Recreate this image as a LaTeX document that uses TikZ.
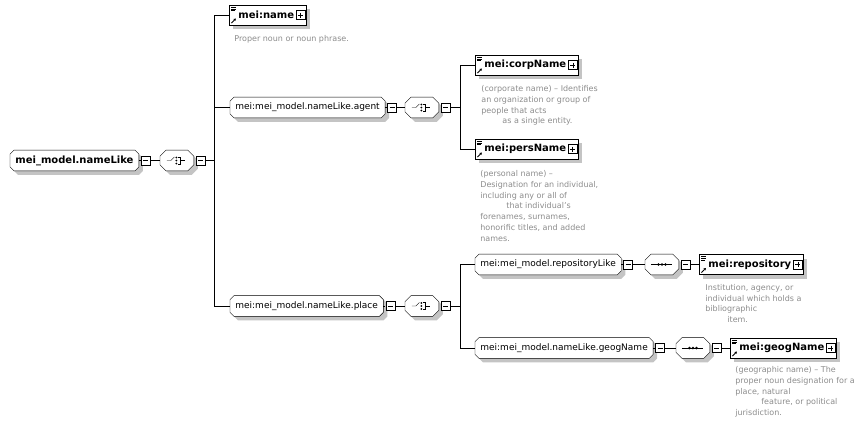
\documentclass[tikz,border=0pt]{standalone}
\usepackage{fontspec}
\setmainfont{DejaVu Sans}
\usepackage{xcolor}
\usetikzlibrary{shadows, positioning, arrows.meta}
\definecolor{DocGrey}{HTML}{8C8C8C}
\definecolor{ShadeGrey}{HTML}{C4C4C4}
\pgfdeclarelayer{bg}
\pgfsetlayers{bg,main}
\newcommand{\grpfont}{\fontsize{9}{11}\selectfont}
\newcommand{\rootfont}{\fontsize{10}{12}\selectfont\bfseries}
\newcommand{\elemfont}{\fontsize{10}{12}\selectfont\bfseries}
\newcommand{\docfont}{\fontsize{8}{10.7}\selectfont}
% beveled outline round a node: #1 node, #2 bevel
\newcommand{\octpath}[2]{([xshift=#2]#1.north west) -- ([xshift=-#2]#1.north east) -- ([yshift=-#2]#1.north east) -- ([yshift=#2]#1.south east) -- ([xshift=-#2]#1.south east) -- ([xshift=#2]#1.south west) -- ([yshift=#2]#1.south west) -- ([yshift=-#2]#1.north west) -- cycle}
\tikzset{octo/.style={append after command={\pgfextra{
    \begin{pgfonlayer}{bg}
        \fill[ShadeGrey, transform canvas={xshift=4pt, yshift=-4pt}] \octpath{\tikzlastnode}{#1};
        \filldraw[fill=white] \octpath{\tikzlastnode}{#1};
    \end{pgfonlayer}}}}}

\begin{document}
\begin{tikzpicture}[x=1pt, y=-1pt, line width=0.8pt, node distance=2pt]
    \tikzstyle{shade} = [drop shadow={shadow xshift=4pt, shadow yshift=-4pt, fill=ShadeGrey, opacity=1}]
    \tikzstyle{grp} = [rectangle, octo=4pt, inner xsep=5pt, inner ysep=0pt, minimum height=20pt, font=\grpfont]
    \tikzstyle{minusb} = [draw, fill=white, minimum size=9pt, inner sep=0pt, path picture={\draw ([xshift=2pt]path picture bounding box.west) -- ([xshift=-2pt]path picture bounding box.east);}]
    \tikzstyle{choice} = [rectangle, octo=6pt, minimum width=33pt, minimum height=20pt, inner sep=0pt,
        path picture={
            \draw ([xshift=-10pt]path picture bounding box.center) -- ++(4,0) -- ++(3.5,-3.5);
            \foreach \dy in {-3,0,3} \fill ([xshift=-0.5pt,yshift=\dy pt]path picture bounding box.center) circle (1pt);
            \draw ([xshift=1.5pt,yshift=3.5pt]path picture bounding box.center) -- ++(1.5,0) -- ++(0,7) -- ++(-1.5,0);
            \draw ([xshift=3pt]path picture bounding box.center) -- ++(5,0);
        }]
    \tikzstyle{sequ} = [rectangle, octo=6pt, minimum width=33pt, minimum height=20pt, inner sep=0pt,
        path picture={
            \draw ([xshift=-11pt]path picture bounding box.center) -- ++(21,0);
            \foreach \dx in {-3.5,0,3.5} \fill ([xshift=\dx pt]path picture bounding box.center) circle (1.4pt);
        }]
    \tikzstyle{elem} = [rectangle, draw, fill=white, shade, inner sep=0pt, minimum height=20pt, font=\elemfont,
        execute at begin node={\hspace*{9pt}}, execute at end node={\hspace*{12pt}},
        path picture={
            \draw[line width=0.6pt] ([xshift=2pt,yshift=-2pt]path picture bounding box.north west) -- ++(5,0) ++(-5,1.8) -- ++(5,0) ++(-5,1.8) -- ++(4,0);
            \draw[line width=0.9pt, -{Triangle[length=2.2pt,width=2.6pt]}] ([xshift=2pt,yshift=2pt]path picture bounding box.south west) -- ++(4.5,-4.5);
            \draw[fill=white] ([xshift=-1pt,yshift=4.5pt]path picture bounding box.east) rectangle ++(-9,9);
            \draw ([xshift=-5.5pt,yshift=2.5pt]path picture bounding box.east) -- ++(0,5);
            \draw ([xshift=-8pt]path picture bounding box.east) -- ++(5,0);
        }]
    \tikzstyle{desc} = [inner sep=0pt, align=left, text=DocGrey, font=\docfont]

    \useasboundingbox (0,0) rectangle (865,424);

    % root group and its choice
    \node [grp, font=\rootfont, anchor=west] (root) at (10,160.5) {mei\_model.nameLike};
    \node [minusb, right=of root] (rootm) {};
    \node [choice, anchor=west] (rootc) at (160,160.5) {};
    \node [minusb, right=of rootc] (rootcm) {};
    \coordinate (bus0) at (214,160.5);

    \node [elem, anchor=west] (name) at (229,15) {mei:name};
    \node [desc, below right=10pt and 5pt of name.south west] (namedoc) {Proper noun or noun phrase.};

    % agent
    \node [grp, anchor=west] (agent) at (230,107.5) {mei:mei\_model.nameLike.agent};
    \node [minusb, right=of agent] (agentm) {};
    \node [choice, anchor=west] (agentc) at (405,107.5) {};
    \node [minusb, right=of agentc] (agentcm) {};
    \coordinate (bus1) at (460,107.5);

    \node [elem, anchor=west] (corp) at (475,65) {mei:corpName};
    \node [desc, below right=10pt and 6pt of corp.south west] (corpdoc) {(corporate name) -- Identifies\\an organization or group of\\people that acts\\\hspace*{21pt}as a single entity.};
    \node [elem, anchor=west] (pers) at (475,149) {mei:persName};
    \node [desc, below right=11pt and 5pt of pers.south west] (persdoc) {(personal name) --\\Designation for an individual,\\including any or all of\\\hspace*{26pt}that individual's\\forenames, surnames,\\honorific titles, and added\\names.};

    % place
    \node [grp, anchor=west] (place) at (230,306) {mei:mei\_model.nameLike.place};
    \node [minusb, right=of place] (placem) {};
    \node [choice, anchor=west] (placec) at (405,306) {};
    \node [minusb, right=of placec] (placecm) {};
    \coordinate (bus2) at (460,306);

    \node [grp, anchor=west] (repo) at (475,264.5) {mei:mei\_model.repositoryLike};
    \node [minusb, right=of repo] (repom) {};
    \node [sequ, anchor=west] (repos) at (645,264.5) {};
    \node [minusb, right=of repos] (reposm) {};
    \node [elem, anchor=west] (repository) at (699,264.5) {mei:repository};
    \node [desc, below right=9pt and 6pt of repository.south west] (repdoc) {Institution, agency, or\\individual which holds a\\bibliographic\\\hspace*{22pt}item.};

    \node [grp, anchor=west] (geog) at (475,348) {mei:mei\_model.nameLike.geogName};
    \node [minusb, right=of geog] (geogm) {};
    \node [sequ, anchor=west] (geogs) at (676,348) {};
    \node [minusb, right=of geogs] (geogsm) {};
    \node [elem, anchor=west] (geogname) at (730,348) {mei:geogName};
    \node [desc, below right=8pt and 5pt of geogname.south west] (geogdoc) {(geographic name) -- The\\proper noun designation for a\\place, natural\\\hspace*{26pt}feature, or political\\jurisdiction.};

    % connectors
    \foreach \g in {root, agent, place, repo, geog}
        \draw (\g.east) -- (\g m.west);
    \foreach \a/\b in {rootm/rootc, agentm/agentc, placem/placec, repom/repos, geogm/geogs, reposm/repository, geogsm/geogname}
        \draw (\a) -- (\b);
    \draw (rootcm) -- (bus0);
    \draw (bus0 |- name.west) -- (bus0 |- place.west);
    \foreach \n in {name, agent, place}
        \draw (bus0 |- \n.west) -- (\n.west);
    \draw (agentcm) -- (bus1);
    \draw (bus1 |- corp.west) -- (bus1 |- pers.west);
    \foreach \n in {corp, pers}
        \draw (bus1 |- \n.west) -- (\n.west);
    \draw (placecm) -- (bus2);
    \draw (bus2 |- repo.west) -- (bus2 |- geog.west);
    \foreach \n in {repo, geog}
        \draw (bus2 |- \n.west) -- (\n.west);
\end{tikzpicture}
\end{document}
